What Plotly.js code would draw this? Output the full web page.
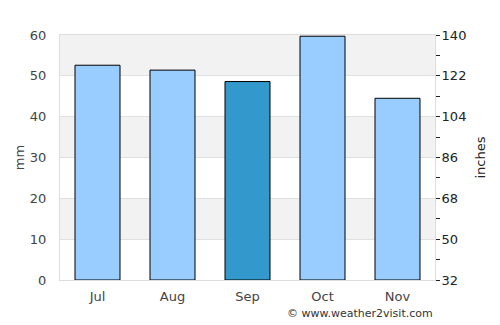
<!DOCTYPE html>
<html>
<head>
<meta charset="utf-8">
<script src="https://cdn.plot.ly/plotly-3.0.1.min.js"></script>
<style>html,body{margin:0;padding:0;background:#fff;}#chart{width:500px;height:325px;}</style>
</head>
<body>
<div id="chart"></div>
<script>
const months = ["Jul", "Aug", "Sep", "Oct", "Nov"];
const rainfallMm = [52.6, 51.4, 48.6, 59.7, 44.5];
const barColors = ["#99ccff", "#99ccff", "#3399cc", "#99ccff", "#99ccff"];
const leftTicks = [0, 10, 20, 30, 40, 50, 60];
const rightTicks = [32, 50, 68, 86, 104, 122, 140];
const bands = [[50, 60], [30, 40], [10, 20]];

const font = "DejaVu Sans, sans-serif";

const trace = {
  type: "bar",
  x: months,
  y: rainfallMm,
  width: 0.6,
  marker: { color: barColors, line: { color: "#000", width: 1 } },
  hoverinfo: "none"
};

const shapes = bands.map(b => ({
  type: "rect", xref: "paper", yref: "y", x0: 0, x1: 1, y0: b[0], y1: b[1],
  fillcolor: "#f2f2f2", line: { width: 0 }, layer: "below"
}));

const layout = {
  width: 500, height: 325,
  margin: { l: 60, r: 65, t: 35, b: 45, pad: 0 },
  paper_bgcolor: "#fff", plot_bgcolor: "rgba(0,0,0,0)",
  showlegend: false,
  font: { family: font, size: 13, color: "#444" },
  bargap: 0.4,
  xaxis: {
    type: "category",
    showgrid: false,
    showline: true, linecolor: "#ddd", linewidth: 1, mirror: true,
    ticks: "", ticklabelstandoff: 4,
    tickfont: { family: font, size: 13, color: "#444" }
  },
  yaxis: {
    range: [0, 60],
    tickvals: leftTicks,
    showgrid: true, gridcolor: "#e0e0e0", gridwidth: 1,
    zeroline: false,
    showline: true, linecolor: "#ddd", linewidth: 1, mirror: true,
    ticks: "", ticklabelstandoff: 10,
    tickfont: { family: font, size: 13, color: "#444" },
    title: { text: "mm", font: { family: font, size: 13, color: "#444" }, standoff: 2 }
  },
  yaxis2: {
    overlaying: "y", side: "right",
    range: [32, 140],
    tickvals: rightTicks,
    showgrid: false, zeroline: false, showline: false,
    ticks: "outside", ticklen: 4, tickcolor: "#222", ticklabelstandoff: -1,
    minor: { dtick: 9, tick0: 32, ticks: "outside", ticklen: 4, tickcolor: "#222", showgrid: false },
    tickfont: { family: font, size: 13, color: "#222" },
    title: { text: "inches", font: { family: font, size: 13, color: "#222" }, standoff: 10 }
  },
  shapes: shapes,
  annotations: [{
    text: "© www.weather2visit.com", xref: "paper", yref: "paper",
    x: 1, y: 0, xanchor: "right", yanchor: "top", yshift: -25,
    showarrow: false, font: { family: font, size: 11, color: "#333" }
  }]
};

const dummy = { type: "scatter", x: [months[0]], y: [rightTicks[0]], yaxis: "y2", mode: "markers", marker: { opacity: 0 }, hoverinfo: "none" };

Plotly.newPlot("chart", [trace, dummy], layout, { displayModeBar: false, staticPlot: true });
</script>
</body>
</html>
